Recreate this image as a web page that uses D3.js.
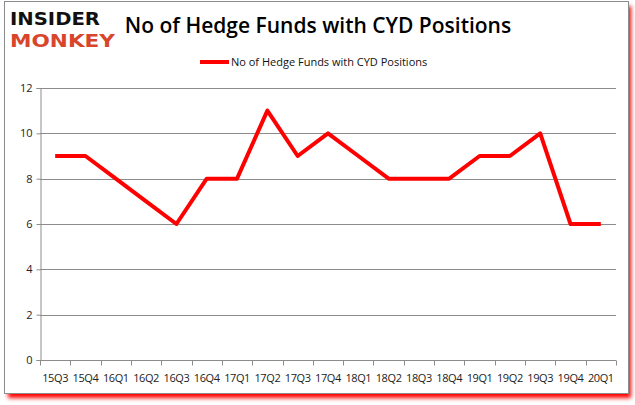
<!DOCTYPE html>
<html lang="en">
<head>
  <meta charset="UTF-8">
  <title>No of Hedge Funds with CYD Positions</title>
  <script src="https://d3js.org/d3.v7.min.js"></script>
  <style>
    body { margin: 0; padding: 0; background: #fff; overflow: hidden; }
    svg { display: block; }
    .tick text { font-family: "Open Sans", "DejaVu Sans", sans-serif; font-size: 11px; fill: #222; }
  </style>
</head>
<body>
  <svg id="chart" width="635" height="405"></svg>

  <script>
    // —— data ——
    const quarters = ["15Q3","15Q4","16Q1","16Q2","16Q3","16Q4","17Q1","17Q2","17Q3","17Q4",
                      "18Q1","18Q2","18Q3","18Q4","19Q1","19Q2","19Q3","19Q4","20Q1"];
    const funds = [9, 9, 8, 7, 6, 8, 8, 11, 9, 10, 9, 8, 8, 8, 9, 9, 10, 6, 6];
    const yTicks = [0, 2, 4, 6, 8, 10, 12];
    const seriesName = "No of Hedge Funds with CYD Positions";

    const plot = { left: 40, right: 616, top: 88, bottom: 360 };

    const svg = d3.select("#chart");

    // red drop shadow + frame
    const defs = svg.append("defs");
    const blur = defs.append("filter").attr("id", "shadow")
      .attr("x", "-5%").attr("y", "-5%").attr("width", "110%").attr("height", "115%");
    blur.append("feGaussianBlur").attr("stdDeviation", 2);

    svg.append("rect")
      .attr("x", 8).attr("y", 6).attr("width", 623).attr("height", 392)
      .attr("fill", "#ff0000").attr("filter", "url(#shadow)");
    svg.append("rect")
      .attr("x", 4.5).attr("y", 1.5).attr("width", 624).attr("height", 392)
      .attr("fill", "#fff").attr("stroke", "#8c8c8c").attr("stroke-width", 1);

    // —— logo ——
    svg.append("text")
      .attr("x", 10).attr("y", 25)
      .attr("textLength", 90).attr("lengthAdjust", "spacingAndGlyphs")
      .style("font-family", "'DejaVu Sans', sans-serif")
      .style("font-weight", 900).style("font-size", "18px")
      .attr("fill", "#111").text("INSIDER");
    svg.append("text")
      .attr("x", 10).attr("y", 47)
      .attr("textLength", 105).attr("lengthAdjust", "spacingAndGlyphs")
      .style("font-family", "'DejaVu Sans', sans-serif")
      .style("font-weight", 900).style("font-size", "18px")
      .attr("fill", "#d9452b").text("MONKEY");

    // —— title ——
    svg.append("text")
      .attr("x", 318).attr("y", 33)
      .attr("text-anchor", "middle")
      .style("font-family", "'Open Sans', 'DejaVu Sans', sans-serif")
      .style("font-weight", 600).style("font-size", "21px")
      .attr("fill", "#000").text(seriesName);

    // —— legend ——
    svg.append("line")
      .attr("x1", 200).attr("x2", 229).attr("y1", 62).attr("y2", 62)
      .attr("stroke", "#ff0000").attr("stroke-width", 4);
    svg.append("text")
      .attr("x", 231).attr("y", 66)
      .style("font-family", "'Open Sans', 'DejaVu Sans', sans-serif")
      .style("font-size", "11px").attr("fill", "#111").text(seriesName);

    // —— scales ——
    const x = d3.scaleBand().domain(quarters).range([plot.left, plot.right]);
    const y = d3.scaleLinear().domain([0, 12]).range([plot.bottom, plot.top]);

    // gridlines
    svg.append("g")
      .selectAll("line")
      .data(yTicks.filter(d => d > 0))
      .join("line")
      .attr("x1", plot.left).attr("x2", plot.right)
      .attr("y1", d => Math.round(y(d)) + 0.5).attr("y2", d => Math.round(y(d)) + 0.5)
      .attr("stroke", "#8c8c8c");

    // y axis
    const yAxis = svg.append("g")
      .attr("transform", `translate(${plot.left + 0.5},0)`)
      .call(d3.axisLeft(y).tickValues(yTicks).tickSize(4).tickPadding(4));
    yAxis.select(".domain").attr("stroke", "#8c8c8c");
    yAxis.selectAll(".tick line").attr("stroke", "#8c8c8c");

    // x axis (ticks at band edges)
    const xAxis = svg.append("g")
      .attr("transform", `translate(0,${Math.round(plot.bottom) + 0.5})`);
    xAxis.append("line")
      .attr("x1", plot.left).attr("x2", plot.right)
      .attr("stroke", "#8c8c8c");
    const edges = quarters.map(q => x(q)).concat([plot.right]);
    xAxis.selectAll("line.tk")
      .data(edges).join("line").attr("class", "tk")
      .attr("x1", d => Math.round(d) + 0.5).attr("x2", d => Math.round(d) + 0.5)
      .attr("y1", 0).attr("y2", 5)
      .attr("stroke", "#8c8c8c");
    xAxis.selectAll("text")
      .data(quarters).join("text")
      .attr("x", d => x(d) + x.bandwidth() / 2)
      .attr("y", 21)
      .attr("text-anchor", "middle")
      .style("font-family", "'Open Sans', 'DejaVu Sans', sans-serif")
      .style("font-size", "11px").style("letter-spacing", "-0.4px")
      .attr("fill", "#222").text(d => d);

    // —— line ——
    const line = d3.line()
      .x((d, i) => x(quarters[i]) + x.bandwidth() / 2)
      .y(d => y(d));
    svg.append("path")
      .datum(funds)
      .attr("d", line)
      .attr("fill", "none")
      .attr("stroke", "#ff0000")
      .attr("stroke-width", 4)
      .attr("stroke-linejoin", "round");
  </script>
</body>
</html>
